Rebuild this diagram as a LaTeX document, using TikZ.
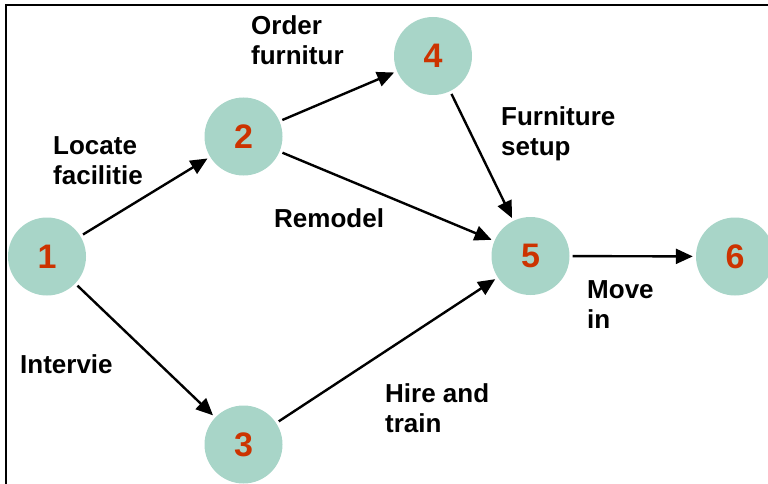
\documentclass[tikz,border=0pt]{standalone}
\usepackage{fontspec}
\setmainfont{Liberation Sans}
\usetikzlibrary{arrows.meta}
\definecolor{nodefill}{RGB}{168,213,200}
\definecolor{numred}{RGB}{204,51,0}
\begin{document}
\begin{tikzpicture}[x=1pt,y=-1pt,
  evt/.style={circle,fill=nodefill,minimum size=78pt,inner sep=0pt,font=\fontsize{34}{34}\selectfont\bfseries,text=numred},
  act/.style={anchor=base west,inner sep=0pt,align=left,font=\fontsize{26}{30}\selectfont\bfseries},
  arr/.style={line width=2.4pt,-{Triangle[length=17pt,width=15pt]},shorten <=3pt,shorten >=3pt}]
\useasboundingbox (0,0) rectangle (768,484);
\draw[line width=2.4pt] (5.8,484) -- (5.8,4.8) -- (768,4.8);
\node[evt] (n1) at (47,256.5) {1};
\node[evt] (n2) at (243.5,136.5) {2};
\node[evt] (n3) at (243.5,444.5) {3};
\node[evt] (n4) at (433,56) {4};
\node[evt] (n5) at (530.5,256) {5};
\node[evt] (n6) at (735,256.5) {6};
\draw[arr] (n1) -- (n2);
\draw[arr] (n1) -- (n3);
\draw[arr] (n2) -- (n4);
\draw[arr] (n2) -- (n5);
\draw[arr] (n4) -- (n5);
\draw[arr] (n3) -- (n5);
\draw[arr] (n5) -- (n6);
\node[act] (lorder) at (251,65) {Order\\furnitur};
\node[act] (llocate) at (53,184) {Locate\\facilitie};
\node[act] (lfurn) at (501,155) {Furniture\\setup};
\node[act] (lremodel) at (274,227) {Remodel};
\node[act] (lmove) at (587,328) {Move\\in};
\node[act] (linter) at (20,373) {Intervie};
\node[act] (lhire) at (385,432) {Hire and\\train};
\end{tikzpicture}
\end{document}
